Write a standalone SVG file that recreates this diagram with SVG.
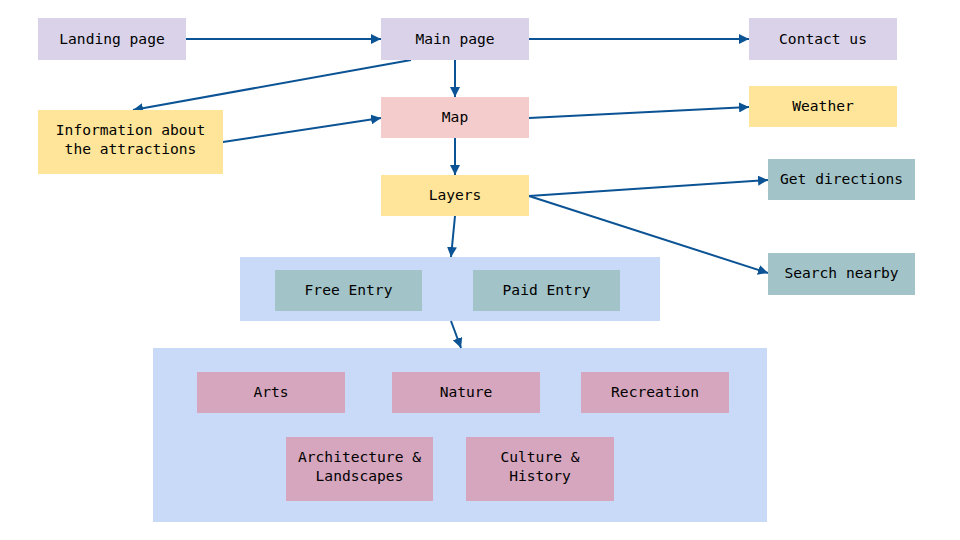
<svg xmlns="http://www.w3.org/2000/svg" width="960" height="540" viewBox="0 0 960 540">
<defs>
<marker id="ah" viewBox="0 0 10 10" refX="10" refY="5" markerWidth="5" markerHeight="5" orient="auto" markerUnits="strokeWidth">
<path d="M0,0 L10,5 L0,10 z" fill="#0b5394"/>
</marker>
<style>
text{font-family:"DejaVu Sans Mono","Liberation Mono",monospace;font-size:14.6px;fill:#000;text-anchor:middle;dominant-baseline:central}
.pu{fill:#d9d2e9}.ye{fill:#ffe599}.pk{fill:#f4cccc}.te{fill:#a2c4c9}.bl{fill:#c9daf8}.mg{fill:#d5a6bd}
.c{stroke:#0b5394;stroke-width:2;fill:none;marker-end:url(#ah)}
</style>
</defs>
<rect width="960" height="540" fill="#fff"/>
<g id="entry-group"><rect class="bl" x="240" y="257" width="420" height="64"/></g>
<g id="category-group"><rect class="bl" x="153" y="348" width="614" height="174"/></g>
<g id="connectors">
<line class="c" x1="186" y1="39" x2="381" y2="39"/>
<line class="c" x1="529" y1="39" x2="749" y2="39"/>
<line class="c" x1="411" y1="60" x2="133" y2="110"/>
<line class="c" x1="455" y1="60" x2="455" y2="97"/>
<line class="c" x1="223" y1="142" x2="381" y2="118"/>
<line class="c" x1="529" y1="118" x2="749" y2="107"/>
<line class="c" x1="455" y1="138" x2="455" y2="175"/>
<line class="c" x1="529" y1="196" x2="768" y2="180"/>
<line class="c" x1="529" y1="196" x2="768" y2="273"/>
<line class="c" x1="455" y1="216" x2="451" y2="257"/>
<line class="c" x1="451" y1="321" x2="461" y2="348"/>
</g>
<g id="landing"><rect class="pu" x="38" y="18" width="148" height="42"/><text x="112" y="38">Landing page</text></g>
<g id="main"><rect class="pu" x="381" y="18" width="148" height="42"/><text x="455" y="38">Main page</text></g>
<g id="contact"><rect class="pu" x="749" y="18" width="148" height="42"/><text x="823" y="38">Contact us</text></g>
<g id="info"><rect class="ye" x="38" y="110" width="185" height="64"/><text x="130.5" y="129.5">Information about</text><text x="130.5" y="148.5">the attractions</text></g>
<g id="map"><rect class="pk" x="381" y="97" width="148" height="41"/><text x="455" y="116">Map</text></g>
<g id="weather"><rect class="ye" x="749" y="86" width="148" height="41"/><text x="823" y="105">Weather</text></g>
<g id="layers"><rect class="ye" x="381" y="175" width="148" height="41"/><text x="455" y="194">Layers</text></g>
<g id="directions"><rect class="te" x="768" y="159" width="147" height="41"/><text x="841.5" y="178">Get directions</text></g>
<g id="nearby"><rect class="te" x="768" y="253" width="147" height="42"/><text x="841.5" y="272.5">Search nearby</text></g>
<g id="free"><rect class="te" x="275" y="270" width="147" height="41"/><text x="348.5" y="289.5">Free Entry</text></g>
<g id="paid"><rect class="te" x="473" y="270" width="147" height="41"/><text x="546.5" y="289.5">Paid Entry</text></g>
<g id="arts"><rect class="mg" x="197" y="372" width="148" height="41"/><text x="271" y="391">Arts</text></g>
<g id="nature"><rect class="mg" x="392" y="372" width="148" height="41"/><text x="466" y="391">Nature</text></g>
<g id="recreation"><rect class="mg" x="581" y="372" width="148" height="41"/><text x="655" y="391">Recreation</text></g>
<g id="architecture"><rect class="mg" x="286" y="437" width="147" height="64"/><text x="359.5" y="456.5">Architecture &amp;</text><text x="359.5" y="475.5">Landscapes</text></g>
<g id="culture"><rect class="mg" x="466" y="437" width="148" height="64"/><text x="540" y="456.5">Culture &amp;</text><text x="540" y="475.5">History</text></g>
</svg>
